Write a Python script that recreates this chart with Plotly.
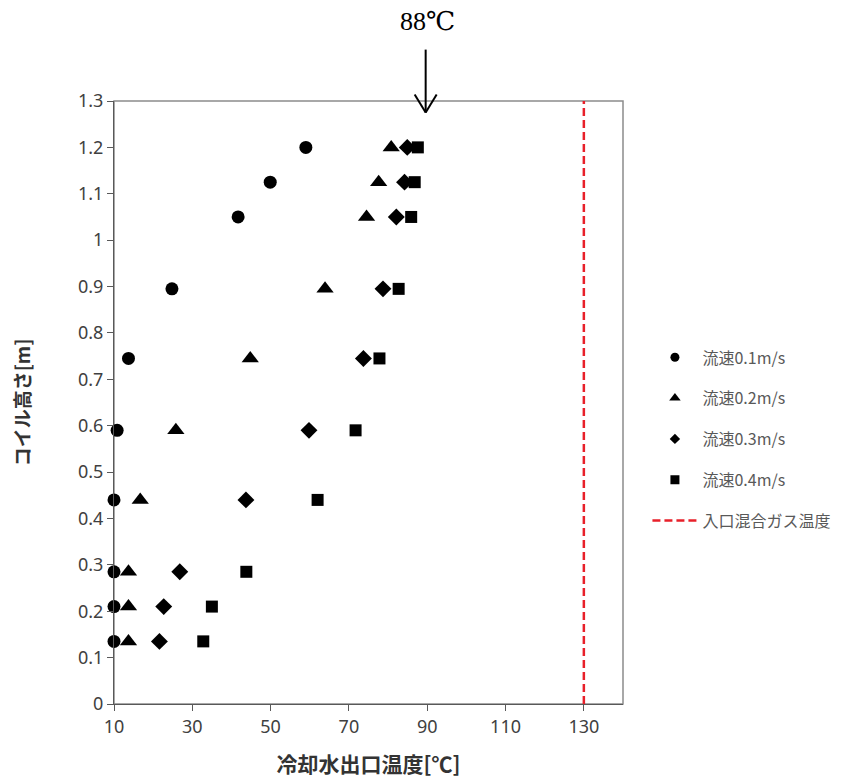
import plotly.graph_objects as go

# ---- data ----
heights = [0.135, 0.21, 0.285, 0.44, 0.59, 0.745, 0.895, 1.05, 1.125, 1.2]
v01 = [10.0, 10.0, 10.0, 10.0, 10.8, 13.7, 24.8, 41.7, 49.9, 59.0]
v02 = [13.7, 13.7, 13.7, 16.7, 25.8, 44.8, 63.9, 74.5, 77.6, 80.8]
v03 = [21.6, 22.7, 26.8, 43.7, 59.8, 73.7, 78.7, 82.1, 84.2, 84.9]
v04 = [32.8, 35.0, 43.8, 62.0, 71.7, 77.8, 82.7, 85.9, 86.8, 87.6]
series_names = ["流速0.1m/s", "流速0.2m/s", "流速0.3m/s", "流速0.4m/s"]
gas_name = "入口混合ガス温度"
gas_temp = 130
peak_label = "88℃"
peak_x = 89.6
peak_tip_y = 1.275
x_ticks = [10, 30, 50, 70, 90, 110, 130]
y_ticks = [0, 0.1, 0.2, 0.3, 0.4, 0.5, 0.6, 0.7, 0.8, 0.9, 1.0, 1.1, 1.2, 1.3]
y_ticklabels = ["0", "0.1", "0.2", "0.3", "0.4", "0.5", "0.6", "0.7", "0.8", "0.9", "1", "1.1", "1.2", "1.3"]
x_title = "冷却水出口温度[℃]"
y_title = "コイル高さ[m]"

FONT = "Noto Sans CJK JP"
symbols = ["circle", "triangle-up", "diamond", "square"]
sizes = [13, 15, 13, 12]
legend_sizes = [9, 10, 8, 9]
Y_MAX = y_ticks[-1]

fig = go.Figure()

for i, (vals, name) in enumerate(zip([v01, v02, v03, v04], series_names)):
    fig.add_trace(go.Scatter(
        x=vals, y=heights, mode="markers", name=name, showlegend=False,
        marker=dict(symbol=symbols[i], size=sizes[i], color="black"),
        cliponaxis=False,
    ))

# legend-only entries (smaller markers)
for i, name in enumerate(series_names):
    fig.add_trace(go.Scatter(
        x=[None], y=[None], mode="markers", name=name, legendgroup=f"g{i}",
        marker=dict(symbol=symbols[i], size=legend_sizes[i], color="black"),
    ))

fig.add_trace(go.Scatter(
    x=[gas_temp, gas_temp], y=[y_ticks[0], Y_MAX], mode="lines", name=gas_name,
    legendgroup="g4",
    line=dict(color="#e8202a", width=2.5, dash="8px,4px"),
    cliponaxis=False,
))

# frame (top / right) in light gray
fig.add_shape(type="rect", xref="paper", yref="paper", x0=0, y0=0, x1=1, y1=1,
              line=dict(color="#8c8c8c", width=1.5), layer="below")

# arrow drawn as pixel-sized line shapes anchored at the tip
arrow_line = dict(color="black", width=2)
for (x0, y0, x1, y1) in [(0, 0, 0, 63), (0, 0, -11, 18), (0, 0, 11, 18)]:
    fig.add_shape(type="line", xref="x", yref="paper",
                  xsizemode="pixel", ysizemode="pixel",
                  xanchor=peak_x, yanchor=peak_tip_y / Y_MAX,
                  x0=x0, y0=y0, x1=x1, y1=y1, line=arrow_line, layer="above")

fig.add_annotation(x=peak_x, y=1.0, xref="x", yref="paper", text=peak_label,
                   showarrow=False, yanchor="middle", yshift=80, xshift=2,
                   font=dict(family="Liberation Serif, DejaVu Serif, serif", size=26,
                             color="black"))

fig.update_layout(
    width=837, height=770,
    margin=dict(l=106, r=222, t=93, b=74, autoexpand=False),
    paper_bgcolor="white", plot_bgcolor="white",
    font=dict(family=FONT, color="#404040"),
    showlegend=True,
    legend=dict(x=1.048, y=0.603, xanchor="left", yanchor="top",
                font=dict(family=FONT, size=16, color="#595959"),
                itemwidth=45, tracegroupgap=17, bgcolor="rgba(0,0,0,0)"),
    xaxis=dict(range=[10, 140], tickvals=x_ticks, ticks="outside", ticklen=6,
               tickcolor="#595959", showline=True, linecolor="#595959", linewidth=1.2,
               showgrid=False, zeroline=False, automargin=False,
               tickfont=dict(family="Noto Sans", size=18, color="#404040"),
               title=dict(text=x_title, standoff=22,
                          font=dict(family=FONT, size=21, color="#333333", weight="bold"))),
    yaxis=dict(range=[0, Y_MAX], tickvals=y_ticks, ticktext=y_ticklabels, ticks="outside",
               ticklen=6, tickcolor="#595959", showline=True, linecolor="#595959",
               linewidth=1.2, showgrid=False, zeroline=False, automargin=False,
               tickfont=dict(family="Noto Sans", size=18, color="#404040"),
               title=dict(text=y_title, standoff=43,
                          font=dict(family=FONT, size=19, color="#333333", weight="bold"))),
)

fig.write_html("out.html")
